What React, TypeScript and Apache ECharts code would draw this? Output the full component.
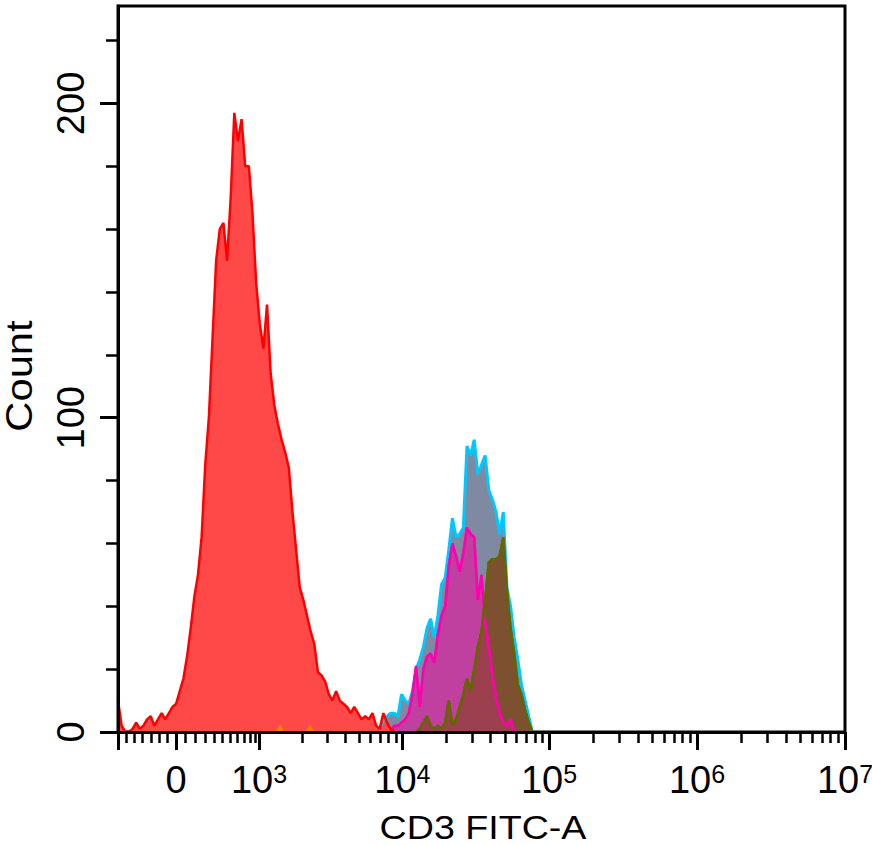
import React, { useEffect, useRef } from "react";
import * as echarts from "echarts";

// ---- axis scale (display channels 0..1000 across the plot) ----
const X_MIN = 0;
const X_MAX = 1000;
const Y_MIN = 0;
const Y_MAX = 231;

// tick label positions (channels) and texts
const labelChannels = [79.8, 193.9, 391.1, 592.8, 796.4, 1000];
const tickLabels = ["0", "10^3", "10^4", "10^5", "10^6", "10^7"];
const majorTickChannels = [0, 79.8, 193.9, 391.1, 592.8, 796.4, 1000];
const linearMinorChannels = [11.0, 22.5, 34.0, 45.4, 56.9, 68.3, 93.1, 106.9, 120.6, 132.0, 143.3, 154.9, 164.0, 173.2, 182.4, 189.3];
const decadeChannels = [193.9, 391.1, 592.8, 796.4, 1000];
const yMajorTicks = [0, 100, 200];
const yMinorTicks = [20, 40, 60, 80, 120, 140, 160, 180, 220];

const xAxisTitle = "CD3 FITC-A";
const yAxisTitle = "Count";

// ---- histograms: counts per 5-channel bin ----
const BIN = 5;
const redStart = 0;
const redCounts = [10, 2, 0, 0, 1, 3, 1, 2, 4, 5, 2, 4, 6, 4, 6, 8, 9, 13, 17, 24, 33, 43, 50, 62, 85, 100, 125, 150, 160, 162, 150, 170, 197, 188, 195, 180, 180, 165, 143, 130, 122, 136, 114, 104, 98, 93, 89, 84, 70, 58, 46, 42, 37, 32, 28, 19, 18, 16, 12, 10, 13, 10, 9, 8, 6, 8, 6, 4, 5, 4, 6, 2, 1, 6, 3, 1, 0];
const cyanStart = 360;
const cyanCounts = [1, 4, 5, 6, 6, 5, 12, 10, 9, 13, 20, 23, 27, 33, 36, 30, 37, 47, 49, 58, 68, 62, 63, 65, 91, 88, 93, 82, 85, 88, 77, 74, 70, 63, 70, 46, 40, 30, 23, 15, 10, 5, 0];
const magentaStart = 375;
const magentaCounts = [0, 2, 2, 3, 4, 6, 12, 21, 8, 20, 24, 25, 22, 31, 37, 40, 53, 60, 56, 51, 57, 65, 63, 62, 42, 50, 35, 27, 18, 11, 6, 3, 2, 4, 0];
const oliveStart = 410;
const oliveCounts = [0, 1, 3, 5, 2, 1, 2, 1, 3, 10, 2, 4, 8, 12, 17, 13, 20, 27, 32, 42, 54, 55, 55, 56, 62, 45, 33, 25, 15, 12, 7, 3, 0];
const orangeA = [[218, 0], [223, 2], [228, 0]];
const orangeB = [[259, 0], [264, 2], [269, 0]];

const toPoints = (start: number, counts: number[]) => counts.map((c, i) => [start + i * BIN, c]);

const FONT = '"Liberation Sans", Arial, Helvetica, sans-serif';

function logMinorTicks(decades: number[]): number[] {
  const out: number[] = [];
  for (let k = 0; k < decades.length - 1; k++) {
    const a = decades[k];
    const b = decades[k + 1];
    for (let m = 2; m <= 9; m++) out.push(a + Math.log10(m) * (b - a));
  }
  return out;
}

export default function App() {
  const ref = useRef<HTMLDivElement>(null);
  useEffect(() => {
    document.body.style.margin = "0";
    if (!ref.current) return;
    const chart = echarts.init(ref.current, undefined, { renderer: "svg", width: 872, height: 845 });
    const minorX = [...linearMinorChannels, ...logMinorTicks(decadeChannels)];
    const area = (
      data: number[][],
      line: string,
      fill: string,
      width: number,
      showArea = true
    ) => ({
      type: "line",
      data,
      symbol: "none",
      showSymbol: false,
      smooth: false,
      silent: true,
      lineStyle: { color: line, width },
      itemStyle: { color: line },
      areaStyle: showArea ? { color: fill, opacity: 1 } : undefined,
      z: 2,
    });
    const option: any = {
      animation: false,
      grid: {
        left: 118,
        right: 27,
        top: 6,
        bottom: 113,
        containLabel: false,
        outerBoundsMode: "none",
        show: true,
        borderColor: "#000",
        borderWidth: 3,
        backgroundColor: "transparent",
      },
      xAxis: [
        {
          type: "value",
          min: X_MIN,
          max: X_MAX,
          position: "bottom",
          z: 5,
          axisLine: { show: true, onZero: false, lineStyle: { color: "#000", width: 3 } },
          axisTick: { show: true, customValues: majorTickChannels, length: 18, lineStyle: { color: "#000", width: 3 } },
          axisLabel: {
            show: true,
            customValues: labelChannels,
            margin: 29,
            formatter: (v: number) => {
              let best = 0;
              for (let i = 1; i < labelChannels.length; i++) {
                if (Math.abs(labelChannels[i] - v) < Math.abs(labelChannels[best] - v)) best = i;
              }
              const [b, s] = tickLabels[best].split("^");
              return s ? `{b|${b}}{s|${s}}` : `{b|${b}}`;
            },
            rich: {
              b: { fontSize: 38, lineHeight: 38, fontFamily: FONT, color: "#000" },
              s: { fontSize: 25, lineHeight: 25, fontFamily: FONT, color: "#000", verticalAlign: "top" },
            },
          },
          splitLine: { show: false },
        },
        {
          type: "value",
          min: X_MIN,
          max: X_MAX,
          position: "bottom",
          z: 5,
          axisLine: { show: false, onZero: false },
          axisTick: { show: true, customValues: minorX, length: 11, lineStyle: { color: "#000", width: 2.5 } },
          axisLabel: { show: false },
          splitLine: { show: false },
        },
      ],
      yAxis: [
        {
          type: "value",
          min: Y_MIN,
          max: Y_MAX,
          position: "left",
          z: 5,
          axisLine: { show: true, onZero: false, lineStyle: { color: "#000", width: 3 } },
          axisTick: { show: true, customValues: yMajorTicks, length: 18, lineStyle: { color: "#000", width: 3 } },
          axisLabel: {
            show: true,
            customValues: yMajorTicks,
            rotate: 90,
            margin: 28,
            fontSize: 38,
            fontFamily: FONT,
            color: "#000",
          },
          splitLine: { show: false },
        },
        {
          type: "value",
          min: Y_MIN,
          max: Y_MAX,
          position: "left",
          z: 5,
          axisLine: { show: false, onZero: false },
          axisTick: { show: true, customValues: yMinorTicks, length: 12, lineStyle: { color: "#000", width: 2.5 } },
          axisLabel: { show: false },
          splitLine: { show: false },
        },
      ],
      graphic: [
        {
          type: "text",
          x: 483,
          y: 827,
          scaleX: 1.14,
          silent: true,
          style: {
            text: xAxisTitle,
            font: `33px ${FONT}`,
            fill: "#000",
            align: "center",
            verticalAlign: "middle",
            textAlign: "center",
            textVerticalAlign: "middle",
          },
        },
        {
          type: "text",
          x: 20,
          y: 376,
          rotation: Math.PI / 2,
          scaleX: 1.16,
          silent: true,
          style: {
            text: yAxisTitle,
            font: `36px ${FONT}`,
            fill: "#000",
            align: "center",
            verticalAlign: "middle",
            textAlign: "center",
            textVerticalAlign: "middle",
          },
        },
      ],
      series: [
        area(toPoints(cyanStart, cyanCounts), "#00c8ff", "#7f8aa2", 3),
        area(toPoints(magentaStart, magentaCounts), "#ff00b0", "#c550d0", 2.5),
        area(toPoints(oliveStart, oliveCounts), "#666600", "#7d5030", 2.5),
        area(toPoints(magentaStart, magentaCounts), "rgba(255,0,176,0.55)", "rgba(187,48,112,0.5)", 2.5),
        area(toPoints(oliveStart, oliveCounts), "#666600", "none", 2.5, false),
        area(toPoints(redStart, redCounts), "#ff0000", "#ff4848", 2.5),
        area(orangeA, "#ff8000", "#ff8000", 1.5),
        area(orangeB, "#ff8000", "#ff8000", 1.5),
      ],
    };
    chart.setOption(option);
    return () => chart.dispose();
  }, []);
  return (
    <div
      ref={ref}
      style={{ position: "absolute", left: 0, top: 0, width: 872, height: 845, background: "#fff" }}
    />
  );
}
